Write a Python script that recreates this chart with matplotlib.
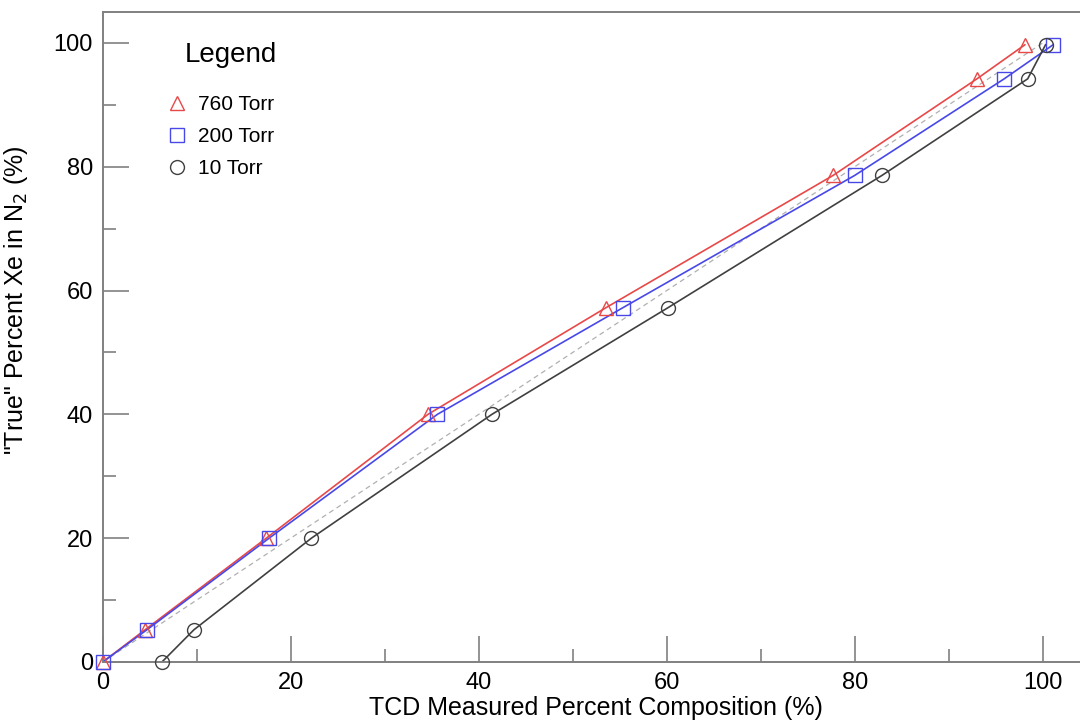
import numpy as np
import matplotlib
matplotlib.use('Agg')
import matplotlib.pyplot as plt
from matplotlib.lines import Line2D
from matplotlib.ticker import MultipleLocator

plt.rcParams['font.family'] = ['Liberation Sans', 'DejaVu Sans']

# "true" Xe percent (y) for each calibration point
true_pct = [0, 5.2, 20, 40, 57.2, 78.6, 94.2, 99.7]

# TCD measured percent (x) at each pressure
tcd_760 = [0, 4.5, 17.4, 34.6, 53.5, 77.7, 93.0, 98.1]
tcd_200 = [0, 4.7, 17.7, 35.6, 55.3, 80.0, 95.9, 101.1]
tcd_10 = [6.3, 9.7, 22.2, 41.4, 60.1, 82.9, 98.4, 100.3]

# ideal 1:1 reference line
ideal = [0, 100]

red = '#e84848'
blue = '#4848e8'
dark = '#404040'

fig = plt.figure(figsize=(10.8, 7.26), dpi=100)
ax = fig.add_axes([102.7 / 1080, 64 / 726, 105 * 9.4 / 1080, 650 / 726])

ax.plot(ideal, ideal, color='#b0b0b0', lw=0.9, ls=(0, (4, 3)), zorder=1)

series = [
    (tcd_760, red, '^', '760 Torr'),
    (tcd_200, blue, 's', '200 Torr'),
    (tcd_10, dark, 'o', '10 Torr'),
]
for xs, col, mk, lab in series:
    ax.plot(xs, true_pct, color=col, lw=1.2, zorder=2)
for xs, col, mk, lab in series:
    ax.plot(xs, true_pct, ls='none', marker=mk, ms=10, mfc='none',
            mec=col, mew=1.0, clip_on=False, zorder=3)

ax.set_xlim(0, 105)
ax.set_ylim(0, 105)
ax.xaxis.set_major_locator(MultipleLocator(20))
ax.xaxis.set_minor_locator(MultipleLocator(10))
ax.yaxis.set_major_locator(MultipleLocator(20))
ax.yaxis.set_minor_locator(MultipleLocator(10))

for s in ['left', 'bottom', 'top']:
    ax.spines[s].set_color('#808080')
    ax.spines[s].set_linewidth(1.4)
ax.spines['right'].set_visible(False)

ax.tick_params(which='major', direction='in', length=18.7, width=1.2,
               color='#808080', labelsize=17, pad=7)
ax.tick_params(which='minor', direction='in', length=9.1, width=1.2,
               color='#808080')
ax.tick_params(axis='y', which='both', right=False)
ax.tick_params(axis='x', which='both', top=False)

ax.set_xlabel('TCD Measured Percent Composition (%)', fontsize=18, labelpad=2)
ax.set_ylabel('"True" Percent Xe in N$_2$ (%)', fontsize=18)
ax.yaxis.set_label_coords(-(102.7 - 30) / (105 * 9.4), (662 - 300) / 650)

# legend: title as its own text, entries as marker-only handles
fig.text(231 / 1080, 1 - 55 / 726, 'Legend', ha='center', va='center',
         fontsize=20)
handles = [Line2D([], [], ls='none', marker=mk, ms=10, mfc='none', mec=col,
                  mew=1.0, label=lab) for xs, col, mk, lab in series]
ax.legend(handles=handles, loc='upper left',
          bbox_to_anchor=(158 / 1080, 1 - 87 / 726),
          bbox_transform=fig.transFigure, frameon=False, fontsize=15,
          handlelength=1.0, handletextpad=0.5, labelspacing=0.62,
          borderpad=0.4, borderaxespad=0)

fig.savefig('out.png', dpi=100)
